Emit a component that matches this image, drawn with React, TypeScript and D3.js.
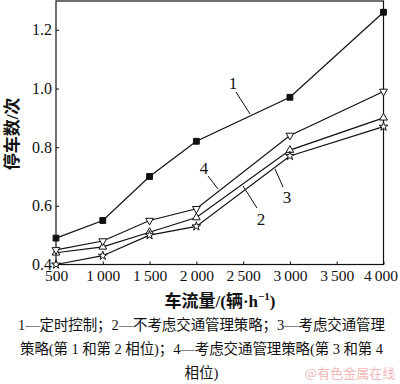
import React from "react";
import * as d3 from "d3";

// data
const flows = [500, 1000, 1500, 2000, 3000, 4000];
const xTicks = [500, 1000, 1500, 2000, 2500, 3000, 3500, 4000];
const yTicks = [0.4, 0.6, 0.8, 1.0, 1.2];
const s1 = [0.49, 0.55, 0.70, 0.82, 0.97, 1.26]; // 定时控制
const s2 = [0.44, 0.46, 0.51, 0.56, 0.79, 0.90]; // 不考虑交通管理策略
const s3 = [0.40, 0.43, 0.50, 0.53, 0.77, 0.87]; // 考虑 (第1和第2相位)
const s4 = [0.45, 0.48, 0.55, 0.59, 0.84, 0.99]; // 考虑 (第3和第4相位)
const captionLines = [
  "1—定时控制；2—不考虑交通管理策略；3—考虑交通管理",
  "策略(第 1 和第 2 相位)；4—考虑交通管理策略(第 3 和第 4",
  "相位)",
];

const serif = '"Liberation Serif", "Times New Roman", serif';
const cjk = '"Liberation Serif", "Noto Sans CJK SC", serif';

const App = () => {
  const ref = React.useRef<SVGSVGElement>(null);

  React.useEffect(() => {
    document.body.style.margin = "0";
    const svg = d3.select(ref.current);
    svg.selectAll("*").remove();

    const left = 56, right = 383.5, top = 1, bottom = 264.5;
    const x = d3.scaleLinear().domain([500, 4000]).range([left, right]);
    const y = d3.scaleLinear().domain([0.4, 1.3]).range([bottom, 0.5]);

    // frame
    svg.append("rect")
      .attr("x", left).attr("y", top)
      .attr("width", right - left).attr("height", bottom - top)
      .attr("fill", "none").attr("stroke", "#111").attr("stroke-width", 1.2);

    // x axis, ticks inward
    const gx = svg.append("g").attr("transform", `translate(0,${bottom})`)
      .call(d3.axisBottom(x).tickValues(xTicks).tickSizeInner(-3).tickSizeOuter(0)
        .tickFormat((d) => {
          const v = +d;
          return v >= 1000 ? `${Math.floor(v / 1000)}\u2009${String(v % 1000).padStart(3, "0")}` : String(v);
        }));
    gx.select(".domain").remove();
    gx.selectAll("line").attr("stroke", "#111");
    gx.selectAll("text").attr("font-family", serif).attr("font-size", 15.5).attr("fill", "#111").attr("dy", "0.95em")
      .attr("y", 2)
      .attr("x", (d) => (+d === 4000 ? -3 : 0));

    // y axis, ticks inward
    const gy = svg.append("g").attr("transform", `translate(${left},0)`)
      .call(d3.axisLeft(y).tickValues(yTicks).tickSizeInner(-3).tickSizeOuter(0).tickFormat(d3.format(".1f")));
    gy.select(".domain").remove();
    gy.selectAll("line").attr("stroke", "#111");
    gy.selectAll("text").attr("font-family", serif).attr("font-size", 16).attr("fill", "#111").attr("x", -4);

    // lines + markers
    const line = d3.line<number>().x((_, i) => x(flows[i])).y((d) => y(d));
    const series = [
      { values: s1, symbol: d3.symbolSquare, size: 34, fill: "#111", rotate: 0 },
      { values: s2, symbol: d3.symbolTriangle, size: 26, fill: "#fff", rotate: 0 },
      { values: s3, symbol: d3.symbolStar, size: 24, fill: "#fff", rotate: 0 },
      { values: s4, symbol: d3.symbolTriangle, size: 26, fill: "#fff", rotate: 180 },
    ];
    const plot = svg.append("g");
    series.forEach((s) => {
      plot.append("path").attr("d", line(s.values)).attr("fill", "none").attr("stroke", "#111").attr("stroke-width", 1.2);
    });
    series.forEach((s) => {
      plot.selectAll(null).data(s.values).enter().append("path")
        .attr("d", d3.symbol().type(s.symbol).size(s.size)())
        .attr("transform", (d, i) => `translate(${x(flows[i])},${y(d)}) rotate(${s.rotate})`)
        .attr("fill", s.fill).attr("stroke", "#111").attr("stroke-width", 1);
    });

    // series labels with leader lines
    const labels = [
      { t: "1", tx: 233, ty: 89, l: [236, 92, 250, 114] },
      { t: "4", tx: 204, ty: 174, l: [208, 176, 218, 189] },
      { t: "2", tx: 261, ty: 225, l: [243, 186, 257, 208] },
      { t: "3", tx: 287, ty: 203, l: [275, 169, 283, 187] },
    ];
    labels.forEach((d) => {
      svg.append("line").attr("x1", d.l[0]).attr("y1", d.l[1]).attr("x2", d.l[2]).attr("y2", d.l[3])
        .attr("stroke", "#111").attr("stroke-width", 1);
      svg.append("text").attr("x", d.tx).attr("y", d.ty).attr("text-anchor", "middle")
        .attr("font-family", serif).attr("font-size", 17).attr("fill", "#111").text(d.t);
    });

    // axis titles
    const xt = svg.append("text").attr("x", 220).attr("y", 307).attr("text-anchor", "middle")
      .attr("font-family", cjk).attr("font-size", 17).attr("font-weight", "bold").attr("fill", "#111");
    xt.append("tspan").text("车流量/(辆·h");
    xt.append("tspan").attr("font-size", 11).attr("dy", -7).text("−1");
    xt.append("tspan").attr("dy", 7).text(")");

    svg.append("text").attr("transform", "translate(18,134) rotate(-90)").attr("text-anchor", "middle")
      .attr("font-family", cjk).attr("font-size", 17).attr("font-weight", "bold").attr("fill", "#111")
      .text("停车数/次");

    // caption
    const widths = [367, 363, 0];
    captionLines.forEach((t, i) => {
      const tx = svg.append("text").attr("x", 201.5).attr("y", 330 + i * 24).attr("text-anchor", "middle")
        .attr("font-family", cjk).attr("font-size", 14.5).attr("fill", "#111").text(t);
      if (widths[i]) tx.attr("textLength", widths[i]).attr("lengthAdjust", "spacing");
    });

    // watermark
    svg.append("text").attr("x", 350).attr("y", 378).attr("text-anchor", "middle")
      .attr("font-family", '"Noto Sans CJK SC", sans-serif').attr("font-size", 13).attr("fill", "#f2b8b8")
      .text("@有色金属在线");
  }, []);

  return <svg ref={ref} width={400} height={384} style={{ display: "block", background: "#fff" }} />;
};

export default App;
